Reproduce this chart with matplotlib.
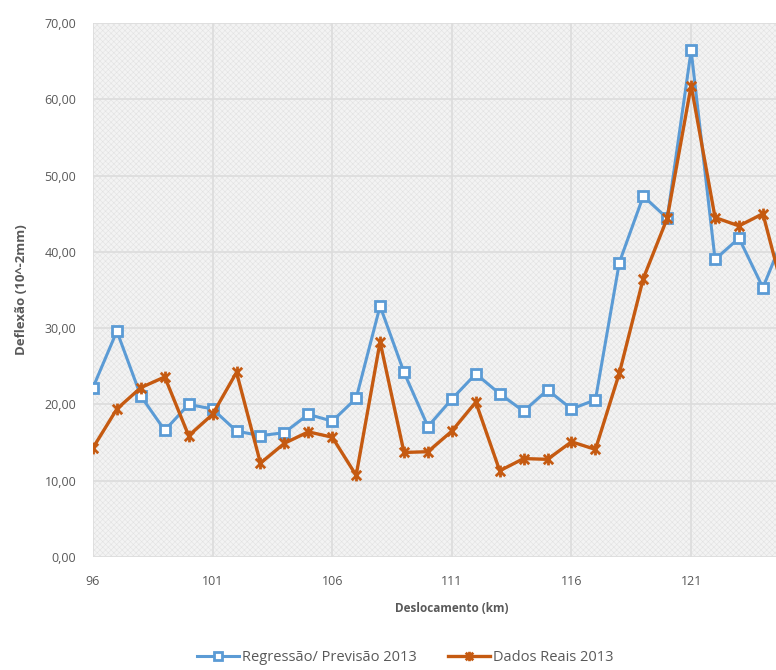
import matplotlib.pyplot as plt
from matplotlib.path import Path
from matplotlib.patches import Rectangle
from matplotlib.ticker import FuncFormatter

# deflexões ao longo do trecho (km 96 a 125)
km = list(range(96, 126))
previsao_2013 = [22.2, 29.6, 21.1, 16.6, 20.0, 19.4, 16.5, 15.9, 16.3, 18.7,
                 17.8, 20.8, 32.9, 24.2, 17.1, 20.7, 24.0, 21.4, 19.1, 21.9,
                 19.4, 20.6, 38.6, 47.3, 44.4, 66.4, 39.0, 41.8, 35.3, 43.0]
reais_2013 = [14.3, 19.4, 22.2, 23.6, 15.9, 18.7, 24.2, 12.3, 14.9, 16.4,
              15.7, 10.7, 28.2, 13.7, 13.8, 16.5, 20.3, 11.3, 12.9, 12.8,
              15.1, 14.1, 24.1, 36.5, 44.4, 61.8, 44.5, 43.4, 45.0, 33.0]
xticks = [96, 101, 106, 111, 116, 121]
yticks = [0, 10, 20, 30, 40, 50, 60, 70]

azul = '#5B9BD5'
laranja = '#C55A11'
cinza = '#595959'

# marcador estrela estilo Excel: X com traço vertical
estrela = Path([(-1, -1), (1, 1), (-1, 1), (1, -1), (0, -1.25), (0, 1.25)],
               [Path.MOVETO, Path.LINETO, Path.MOVETO, Path.LINETO,
                Path.MOVETO, Path.LINETO])

plt.rcParams['font.family'] = ['Open Sans', 'DejaVu Sans']
plt.rcParams['hatch.linewidth'] = 0.4
plt.rcParams['hatch.color'] = '#e2e2e2'

fig = plt.figure(figsize=(7.76, 6.70), dpi=100)
ax = fig.add_axes([0.1198, 0.1687, 0.925, 0.797])
ax.set_facecolor('#f3f3f3')
# textura de fundo da área de plotagem
ax.add_patch(Rectangle((0, 0), 1, 1, transform=ax.transAxes, facecolor='none',
                       hatch='xxxxxx', lw=0, zorder=0))

ax.plot(km, previsao_2013, color=azul, lw=2.2, marker='s', ms=7.5,
        mfc='white', mec=azul, mew=2, label='Regressão/ Previsão 2013', zorder=3)
ax.plot(km, reais_2013, color=laranja, lw=2.4, marker=estrela, ms=8.5,
        mec=laranja, mew=2, label='Dados Reais 2013', zorder=4)

ax.set_xlim(96, 126)
ax.set_ylim(0, 70)
ax.set_xticks(xticks)
ax.set_yticks(yticks)
ax.yaxis.set_major_formatter(FuncFormatter(lambda v, p: f'{v:.2f}'.replace('.', ',')))
ax.grid(True, color='#dcdcdc', lw=1.2)
ax.set_axisbelow(True)
for s in ax.spines.values():
    s.set_visible(False)
ax.tick_params(length=0, labelsize=9, colors=cinza)
ax.tick_params(axis='x', pad=13)
ax.tick_params(axis='y', pad=12)

ax.set_xlabel('Deslocamento (km)', fontsize=8.5, fontweight='bold', color=cinza, labelpad=10)
ax.set_ylabel('Deflexão (10^-2mm)', fontsize=9.5, fontweight='bold', color=cinza, labelpad=12)

fig.legend(loc='lower center', bbox_to_anchor=(0.522, -0.012), ncol=2, frameon=False,
           fontsize=10.5, labelcolor=cinza, handlelength=2.9, handletextpad=0.2,
           columnspacing=2.1, markerscale=0.8)

fig.savefig('out.png', dpi=100)
